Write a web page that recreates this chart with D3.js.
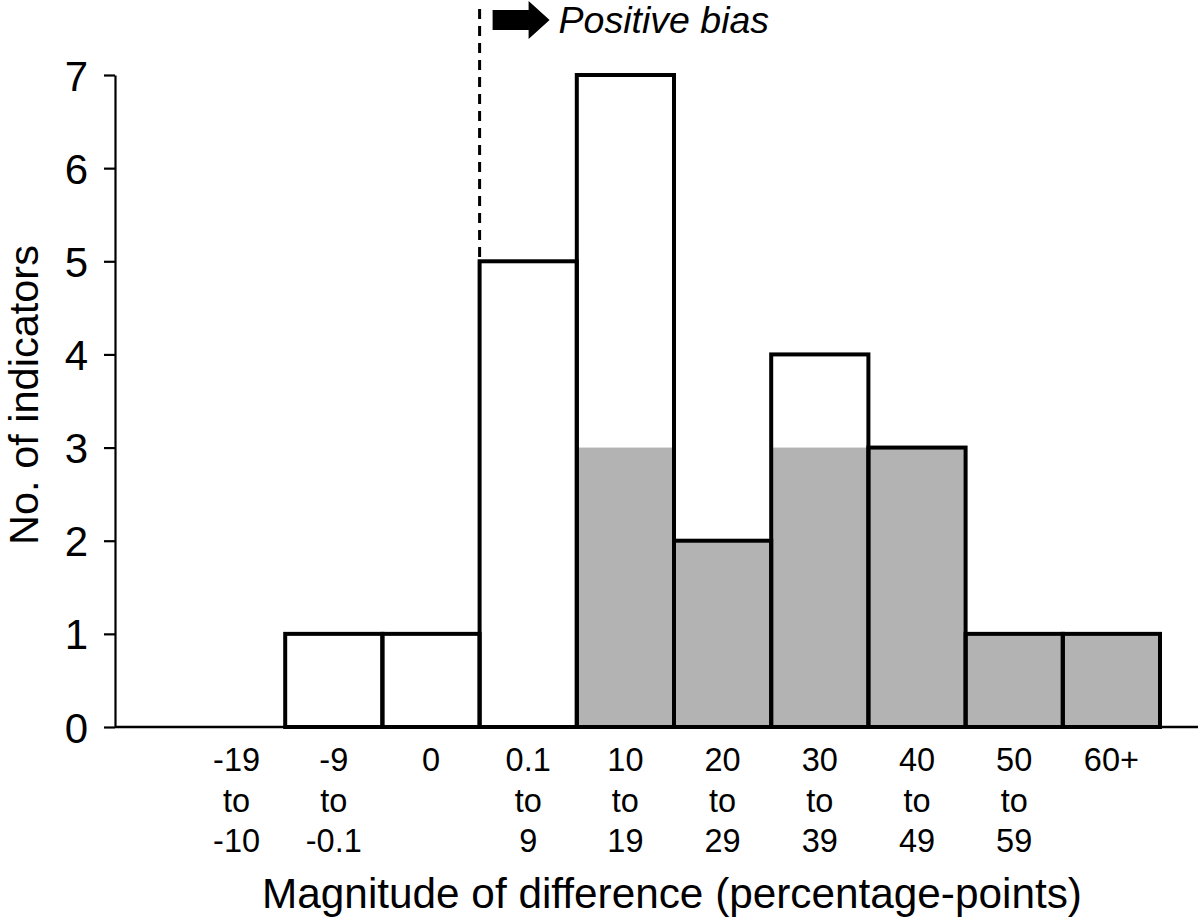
<!DOCTYPE html>
<html>
<head>
<meta charset="utf-8">
<script src="https://cdn.jsdelivr.net/npm/d3@7"></script>
<style>
  html, body { margin: 0; padding: 0; background: #fff; }
  svg { display: block; }
  text { font-family: 'Liberation Sans', Arial, Helvetica, sans-serif; fill: #000; }
</style>
</head>
<body>
<svg id="chart" width="1200" height="919"></svg>
<script>
// ---- data ----
const categories = ["-19 to -10", "-9 to -0.1", "0", "0.1 to 9", "10 to 19", "20 to 29", "30 to 39", "40 to 49", "50 to 59", "60+"];
const totalCounts = [0, 1, 1, 5, 7, 2, 4, 3, 1, 1];
const greyCounts  = [0, 0, 0, 0, 3, 2, 3, 3, 1, 1];
const yTicks = [0, 1, 2, 3, 4, 5, 6, 7];
const xTitle = "Magnitude of difference (percentage-points)";
const yTitle = "No. of indicators";
const biasLabel = "Positive bias";
const biasStartCategory = "0.1 to 9";

// ---- layout ----
const axisX = 115, axisRight = 1198;
const svg = d3.select("#chart");

const x = d3.scaleBand().domain(categories).range([188, 1160]).padding(0);
const y = d3.scaleLinear().domain([0, 7]).range([727, 75]);

const rows = categories.map((c, i) => ({ cat: c, total: totalCounts[i], grey: greyCounts[i] }));

// grey fills
svg.append("g").selectAll("rect").data(rows.filter(d => d.grey > 0)).join("rect")
  .attr("x", d => x(d.cat))
  .attr("y", d => y(d.grey))
  .attr("width", x.bandwidth())
  .attr("height", d => y(0) - y(d.grey))
  .attr("fill", "#b3b3b3");

// y axis
const yAxis = d3.axisLeft(y).tickValues(yTicks).tickFormat(d3.format("d"))
  .tickSize(11).tickSizeOuter(0).tickPadding(16);
const gy = svg.append("g").attr("transform", `translate(${axisX},0)`).call(yAxis);
gy.select(".domain").attr("stroke", "#000").attr("stroke-width", 2.2);
gy.selectAll(".tick line").attr("stroke", "#000").attr("stroke-width", 2.2);
gy.selectAll(".tick text").attr("font-size", 42).attr("fill", "#000")
  .attr("font-family", "'Liberation Sans', Arial, sans-serif").attr("dy", "0.36em");

// x baseline
svg.append("line")
  .attr("x1", axisX).attr("x2", axisRight)
  .attr("y1", y(0)).attr("y2", y(0))
  .attr("stroke", "#000").attr("stroke-width", 2.5);

// bar outlines
svg.append("g").selectAll("rect").data(rows.filter(d => d.total > 0)).join("rect")
  .attr("x", d => x(d.cat))
  .attr("y", d => y(d.total))
  .attr("width", x.bandwidth())
  .attr("height", d => y(0) - y(d.total))
  .attr("fill", "none")
  .attr("stroke", "#000")
  .attr("stroke-width", 4);

// x tick labels (multi-line)
const lineY = [771, 812, 852];
const xl = svg.append("g").attr("font-size", 32.5).attr("text-anchor", "middle");
categories.forEach(c => {
  const parts = c.split(" to ");
  const lines = parts.length === 2 ? [parts[0], "to", parts[1]] : [c];
  lines.forEach((t, i) => {
    xl.append("text")
      .attr("x", x(c) + x.bandwidth() / 2)
      .attr("y", lineY[i])
      .text(t);
  });
});

// axis titles
svg.append("text")
  .attr("x", 672)
  .attr("y", 908)
  .attr("text-anchor", "middle")
  .attr("font-size", 42.3)
  .text(xTitle);

svg.append("text")
  .attr("transform", `translate(38, ${(y(0) + y(7)) / 2 - 6}) rotate(-90)`)
  .attr("text-anchor", "middle")
  .attr("font-size", 41.5)
  .text(yTitle);

// positive bias marker
const bx = x(biasStartCategory);
const biasIdx = categories.indexOf(biasStartCategory);
svg.append("line")
  .attr("x1", bx).attr("x2", bx)
  .attr("y1", 9).attr("y2", y(totalCounts[biasIdx]))
  .attr("stroke", "#000").attr("stroke-width", 3)
  .attr("stroke-dasharray", "10,7");

const ay = 20;
svg.append("path")
  .attr("d", `M${bx + 13},${ay - 10} L${bx + 49},${ay - 10} L${bx + 49},${ay - 19} L${bx + 70},${ay} L${bx + 49},${ay + 19} L${bx + 49},${ay + 10} L${bx + 13},${ay + 10} Z`)
  .attr("fill", "#000");

svg.append("text")
  .attr("x", bx + 79)
  .attr("y", 33)
  .attr("font-size", 37.5)
  .attr("font-style", "italic")
  .text(biasLabel);
</script>
</body>
</html>
